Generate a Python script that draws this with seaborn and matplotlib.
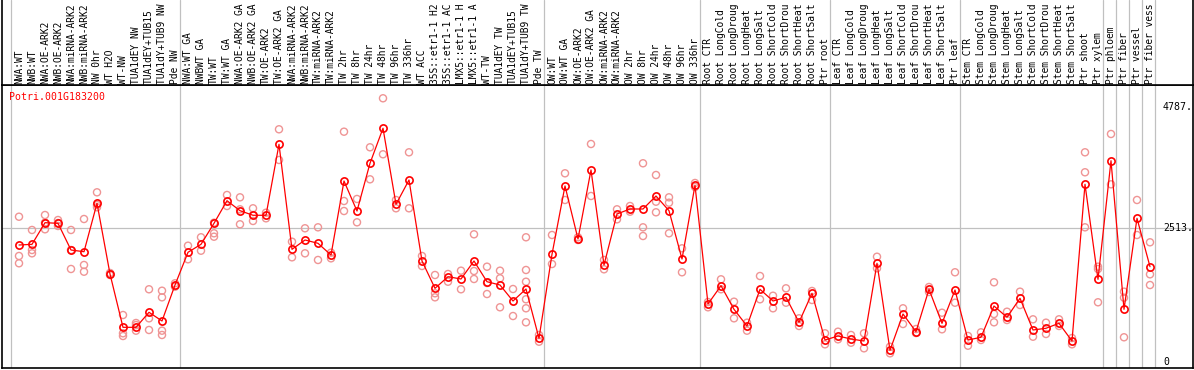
import matplotlib
matplotlib.use("Agg")
import matplotlib.pyplot as plt
import seaborn as sns
import numpy as np
import pandas as pd

gene_id = "Potri.001G183200"

# header shows at most 14 characters of each sample name
samples = [
    "NWA:WT", "NWB:WT", "NWA:OE-ARK2", "NWB:OE-ARK2", "NWA:miRNA-ARK2", "NWB:miRNA-ARK2",
    "NW 0hr", "WT H2O", "WT-NW", "TUA1dEY NW", "TUA1dEY+TUB15", "TUA1dY+TUB9 NW", "Pde NW",
    "NWA:WT GA", "NWBWT GA", "TW:WT", "TW:WT GA", "NWA:OE-ARK2 GA", "NWB:OE-ARK2 GA",
    "TW:OE-ARK2", "TW:OE-ARK2 GA", "NWA:miRNA-ARK2", "NWB:miRNA-ARK2", "TW:miRNA-ARK2",
    "TW:miRNA-ARK2", "TW 2hr", "TW 8hr", "TW 24hr", "TW 48hr", "TW 96hr", "TW 336hr",
    "WT ACC", "35S::etr1-1 H2", "35S::etr1-1 AC", "LMX5::etr1-1 H", "LMX5::etr1-1 A",
    "WT-TW", "TUA1dEY TW", "TUA1dEY+TUB15", "TUA1dY+TUB9 TW", "Pde TW",
    "OW:WT", "OW:WT GA", "OW:OE-ARK2", "OW:OE-ARK2 GA", "OW:miRNA-ARK2", "OW:miRNA-ARK2",
    "OW 2hr", "OW 8hr", "OW 24hr", "OW 48hr", "OW 96hr", "OW 336hr",
    "Root CTR", "Root LongCold", "Root LongDroug", "Root LongHeat", "Root LongSalt",
    "Root ShortCold", "Root ShortDrou", "Root ShortHeat", "Root ShortSalt", "Ptr root",
    "Leaf CTR", "Leaf LongCold", "Leaf LongDroug", "Leaf LongHeat", "Leaf LongSalt",
    "Leaf ShortCold", "Leaf ShortDrou", "Leaf ShortHeat", "Leaf ShortSalt", "Ptr leaf",
    "Stem CTR", "Stem LongCold", "Stem LongDroug", "Stem LongHeat", "Stem LongSalt",
    "Stem ShortCold", "Stem ShortDrou", "Stem ShortHeat", "Stem ShortSalt",
    "Ptr shoot", "Ptr xylem", "Ptr phloem", "Ptr fiber", "Ptr vessel", "Ptr fiber vess",
]

means = [
    2196, 2209, 2615, 2603, 2102, 2070, 2979, 1652, 651, 651, 933, 770, 1445,
    2059, 2209, 2603, 3028, 2840, 2754, 2754, 4086, 2115, 2290, 2228, 2008,
    3397, 2834, 3730, 4387, 2960, 3416, 1896, 1383, 1601, 1558, 1896, 1507,
    1445, 1145, 1370, 445,
    2022, 3304, 2309, 3604, 1821, 2778, 2872, 2872, 3116, 2840, 1933, 3317,
    1089, 1432, 989, 676, 1365, 1145, 1214, 745, 1290, 413,
    488, 432, 394, 1853, 220, 901, 569, 1365, 726, 1351,
    413, 464, 1051, 839, 1196, 601, 633, 726, 394,
    3335, 1552, 3778, 989, 2697, 1789,
]

replicates = [
    [2727, 1990, 1853], [2478, 2102, 2040], [2759, 2491, 2615], [2665, 2553, 2609],
    [2478, 1746, 2102], [2684, 1821, 1695], [3185, 2904, 2947], [1671, 1633],
    [882, 539, 488], [732, 588, 694], [1365, 820, 601], [1338, 1214, 588, 507],
    [1477, 1413],
    [2183, 1928], [2341, 2089], [2416, 2352, 2615], [3135, 2928], [3091, 2585, 2866],
    [2885, 2647, 2759], [2802, 2697], [4368, 3792], [2258, 1965], [2510, 2040],
    [2528, 1915], [2052, 1946], [4323, 3022, 2834], [3060, 2622], [4030, 3429],
    [4950, 3899], [3041, 2885], [3936, 2885], [1990, 1802], [1633, 1290, 1214],
    [1652, 1507], [1714, 1365], [2397, 1708, 1558], [1789, 1276, 1483],
    [1714, 1571, 1027], [1370, 863], [2341, 1727, 1507, 1177, 1008, 745], [507, 381],
    [2384, 1839], [3542, 3041], [2341, 2290], [4092, 3116], [1915, 1740],
    [2866, 2678], [2928, 2821], [3730, 2528, 2365], [3510, 3009, 2810],
    [3091, 2990, 2416], [2134, 1684], [3360, 3285],
    [1126, 1027], [1552, 1365], [1132, 820], [738, 588], [1614, 1177], [1244, 1008],
    [1383, 1113], [820, 676], [1333, 1164], [539, 332],
    [569, 426], [507, 362], [539, 257], [1976, 1759], [287, 163], [1008, 713],
    [619, 544], [1408, 1314], [925, 614], [1684, 1113],
    [488, 306], [557, 413], [1496, 901, 745], [944, 788], [1320, 1070], [801, 475],
    [738, 526], [801, 676], [332, 450],
    [3936, 3561, 2528], [1789, 1746, 1121], [4280, 3335], [1320, 1207, 464],
    [3041, 2384], [2247, 1646, 1445],
]

group_starts = [0, 13, 41, 53, 63, 73, 84, 85, 86, 87, 88]
y_ticks = [4787, 2513, 0]
y_tick_labels = ["4787.", "2513.", "0"]

mean_df = pd.DataFrame({"idx": np.arange(len(means)), "value": means})
rep_df = pd.DataFrame(
    [(i, v) for i, vals in enumerate(replicates) for v in vals], columns=["idx", "value"]
)

sns.set_style("white")
plt.rcParams["font.family"] = ["DejaVu Sans Mono"]

W, H = 1194, 370
fig = plt.figure(figsize=(W / 100, H / 100), dpi=100)
x0, x1 = 2, 1193
ax = fig.add_axes([x0 / W, (H - 368) / H, (x1 - x0) / W, (368 - 85) / H])
hdr = fig.add_axes([x0 / W, (H - 85) / H, (x1 - x0) / W, 85 / H])

xlim = ((x0 - 19) / 13, (x1 - 19) / 13)
ax.set_xlim(*xlim)
ax.set_ylim((362 - 368) * 18.77, (362 - 85) * 18.77)
hdr.set_xlim(*xlim)
hdr.set_ylim(0, 1)

for a in (ax, hdr):
    a.set_xticks([])
    a.set_yticks([])
    for s in a.spines.values():
        s.set_color("black")
        s.set_linewidth(1.2)
    for g in group_starts:
        a.axvline(g - 0.62, color="#c0c0c0", lw=0.9, zorder=0)
hdr.spines["top"].set_visible(False)

ax.axhline(y_ticks[1], color="#c0c0c0", lw=0.9, zorder=0)

sns.scatterplot(data=rep_df, x="idx", y="value", ax=ax, marker="o", s=26,
                facecolor="none", edgecolor="#ef9494", linewidth=1.0, zorder=2)
sns.lineplot(data=mean_df, x="idx", y="value", ax=ax, estimator=None, color="#ff0000",
             lw=0.9, marker="o", markersize=5.2, mfc="none", mec="#ff0000", mew=1.2, zorder=3)
ax.set_xlabel("")
ax.set_ylabel("")

for i, name in enumerate(samples):
    hdr.text(i, 1.5 / 85, name, rotation=90, ha="center", va="bottom", fontsize=6.9,
             color="black")

ax.text(7 / (x1 - x0), (368 - 97) / 283, gene_id, transform=ax.transAxes, color="#ff0000",
        fontsize=7.1, ha="left", va="center")
for v, lab in zip(y_ticks, y_tick_labels):
    ax.text((1163 - x0) / (x1 - x0), v, lab, transform=ax.get_yaxis_transform(),
            fontsize=7.1, ha="left", va="center", color="black")

fig.savefig("out.png", dpi=100)
